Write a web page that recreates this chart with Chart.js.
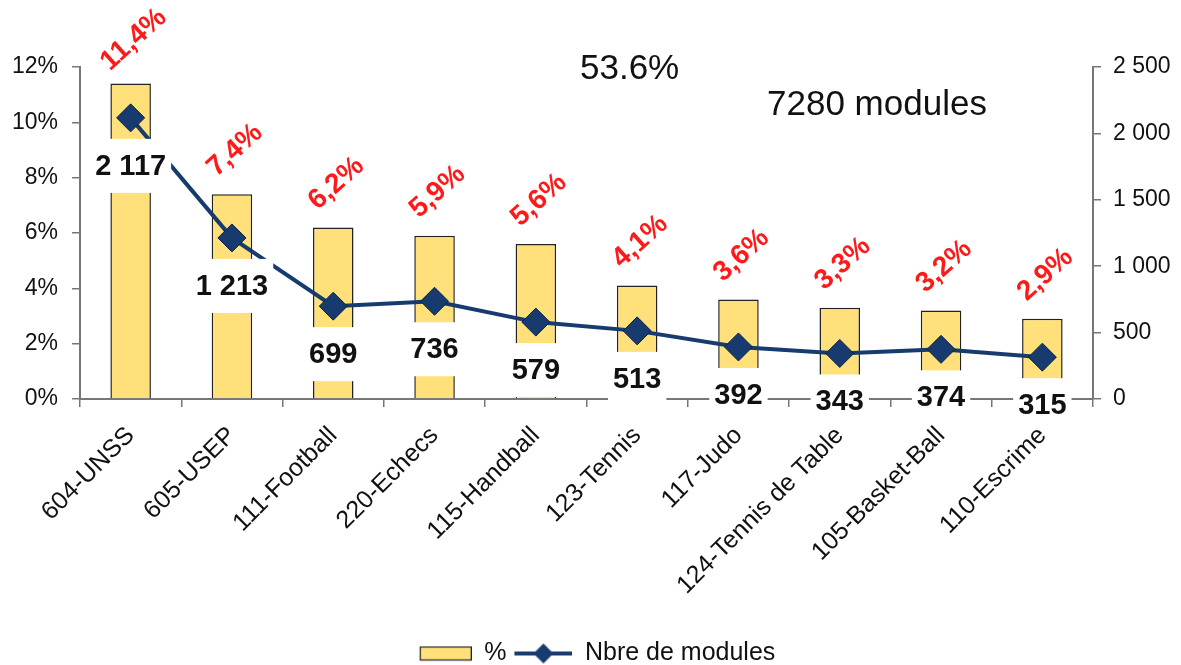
<!DOCTYPE html>
<html>
<head>
<meta charset="utf-8">
<script src="https://cdn.jsdelivr.net/npm/chart.js@4/dist/chart.umd.min.js"></script>
<style>
  html, body { margin: 0; padding: 0; background: #fff; }
  #wrap { width: 1181px; height: 665px; }
</style>
</head>
<body>
<div id="wrap"><canvas id="modulesChart" width="1181" height="665"></canvas></div>
<script>
// --- Data ---
const categories = ['604-UNSS', '605-USEP', '111-Football', '220-Echecs', '115-Handball',
    '123-Tennis', '117-Judo', '124-Tennis de Table', '105-Basket-Ball', '110-Escrime'];
const pctValues = [11.4, 7.4, 6.2, 5.9, 5.6, 4.1, 3.6, 3.3, 3.2, 2.9];
const moduleCounts = [2117, 1213, 699, 736, 579, 513, 392, 343, 374, 315];
const pctTicks = [0, 2, 4, 6, 8, 10, 12];
const countTicks = [0, 500, 1000, 1500, 2000, 2500];
const noteShare = '53.6%';
const noteTotal = '7280 modules';

const FONT = "'Liberation Sans', Arial, sans-serif";
const barYellow = '#FFE07A';
const navy = '#173B6E';

const fmtPct = v => v.toFixed(1).replace('.', ',') + '%';
const fmtCount = v => v >= 1000 ? Math.floor(v / 1000) + ' ' + String(v % 1000).padStart(3, '0') : String(v);

// --- Legend swatches (drawn once on small canvases) ---
function barSwatch() {
    const c = document.createElement('canvas');
    c.width = 66; c.height = 16;
    const g = c.getContext('2d');
    g.fillStyle = barYellow;
    g.fillRect(14.5, 1.5, 51, 13);
    g.strokeStyle = '#222';
    g.lineWidth = 1.2;
    g.strokeRect(14.5, 1.5, 51, 13);
    return c;
}

function lineSwatch() {
    const c = document.createElement('canvas');
    c.width = 66; c.height = 24;
    const g = c.getContext('2d');
    g.strokeStyle = navy;
    g.lineWidth = 4;
    g.beginPath(); g.moveTo(8, 12); g.lineTo(66, 12); g.stroke();
    g.fillStyle = navy;
    g.beginPath();
    g.moveTo(37, 2); g.lineTo(47, 12); g.lineTo(37, 22); g.lineTo(27, 12);
    g.closePath(); g.fill();
    return c;
}

// --- Labels plugin: red % above bars, boxed counts under the markers ---
const valueLabels = {
    id: 'valueLabels',
    afterLayout(chart) {
        // push the legend row down to the very bottom like the original
        chart.legend.top += 11;
        chart.legend.bottom += 11;
    },
    afterDatasetsDraw(chart) {
        const ctx = chart.ctx;
        const bars = chart.getDatasetMeta(0).data;
        const pts = chart.getDatasetMeta(1).data;
        ctx.save();
        ctx.textAlign = 'center';
        ctx.textBaseline = 'middle';

        ctx.font = `bold 28px ${FONT}`;
        ctx.fillStyle = '#FF1A1A';
        bars.forEach((bar, i) => {
            ctx.save();
            ctx.translate(bar.x + 3, bar.y - 44);
            ctx.rotate(-42 * Math.PI / 180);
            ctx.fillText(fmtPct(pctValues[i]), 0, 0);
            ctx.restore();
        });

        ctx.font = `bold 29px ${FONT}`;
        pts.forEach((pt, i) => {
            const txt = fmtCount(moduleCounts[i]);
            const w = ctx.measureText(txt).width;
            const y = pt.y + 48;
            ctx.fillStyle = '#fff';
            ctx.fillRect(pt.x - w / 2 - 5, y - 27, w + 10, 54);
            ctx.fillStyle = '#111';
            ctx.fillText(txt, pt.x, y + 1);
        });
        ctx.restore();
    },
    afterDraw(chart) {
        const ctx = chart.ctx;
        const area = chart.chartArea;
        ctx.save();
        ctx.font = `35px ${FONT}`;
        ctx.fillStyle = '#111';
        ctx.textBaseline = 'middle';
        ctx.textAlign = 'left';
        ctx.fillText(noteShare, area.left + 500, area.top + 2);
        ctx.fillText(noteTotal, area.left + 687, area.top + 38);
        ctx.restore();
    }
};

// --- Chart ---
const ctx = document.getElementById('modulesChart').getContext('2d');
new Chart(ctx, {
    data: {
        labels: categories,
        datasets: [
            {
                type: 'bar',
                label: '%',
                data: pctValues,
                yAxisID: 'y',
                backgroundColor: barYellow,
                borderColor: '#222',
                borderWidth: 1.5,
                categoryPercentage: 0.8,
                barPercentage: 0.5,
                order: 1
            },
            {
                type: 'line',
                label: 'Nbre de modules',
                data: moduleCounts,
                yAxisID: 'y2',
                borderColor: navy,
                borderWidth: 4,
                tension: 0,
                pointStyle: 'rectRot',
                pointRadius: 14,
                pointBackgroundColor: navy,
                pointBorderColor: '#0B2245',
                pointBorderWidth: 1,
                order: 0
            }
        ]
    },
    options: {
        responsive: false,
        devicePixelRatio: 1,
        animation: false,
        layout: { padding: { top: 67, left: 0, right: 0, bottom: 0 } },
        scales: {
            x: {
                grid: { display: true, drawOnChartArea: false, offset: true, tickLength: 8, color: '#777', lineWidth: 1.5 },
                border: { display: true, color: '#777', width: 2 },
                ticks: { color: '#111', minRotation: 45, maxRotation: 45, padding: 14, z: 1, font: { family: FONT, size: 25 } },
                afterFit: s => { s.height = 231; }
            },
            y: {
                position: 'left',
                min: 0,
                max: 12,
                afterBuildTicks: s => { s.ticks = pctTicks.map(v => ({ value: v })); },
                grid: { display: true, drawOnChartArea: false, tickLength: 8, color: '#777', lineWidth: 1.5 },
                border: { display: true, color: '#777', width: 2 },
                ticks: { color: '#111', padding: 14, font: { family: FONT, size: 23 }, callback: v => v + '%' },
                afterFit: s => { s.width = 80; }
            },
            y2: {
                position: 'right',
                min: 0,
                max: 2500,
                afterBuildTicks: s => { s.ticks = countTicks.map(v => ({ value: v })); },
                grid: { display: true, drawOnChartArea: false, tickLength: 8, color: '#777', lineWidth: 1.5 },
                border: { display: true, color: '#777', width: 2 },
                ticks: { color: '#111', padding: 12, font: { family: FONT, size: 23 }, callback: v => fmtCount(v) },
                afterFit: s => { s.width = 88; }
            }
        },
        plugins: {
            legend: {
                position: 'bottom',
                labels: {
                    usePointStyle: true,
                    pointStyleWidth: 66,
                    padding: 0,
                    color: '#111',
                    font: { family: FONT, size: 25 },
                    generateLabels: () => [
                        { text: '%', pointStyle: barSwatch(), fillStyle: barYellow, strokeStyle: '#222', lineWidth: 1, hidden: false, datasetIndex: 0, fontColor: '#111' },
                        { text: 'Nbre de modules', pointStyle: lineSwatch(), fillStyle: navy, strokeStyle: navy, lineWidth: 1, hidden: false, datasetIndex: 1, fontColor: '#111' }
                    ]
                }
            },
            tooltip: { enabled: false }
        }
    },
    plugins: [valueLabels]
});
</script>
</body>
</html>
